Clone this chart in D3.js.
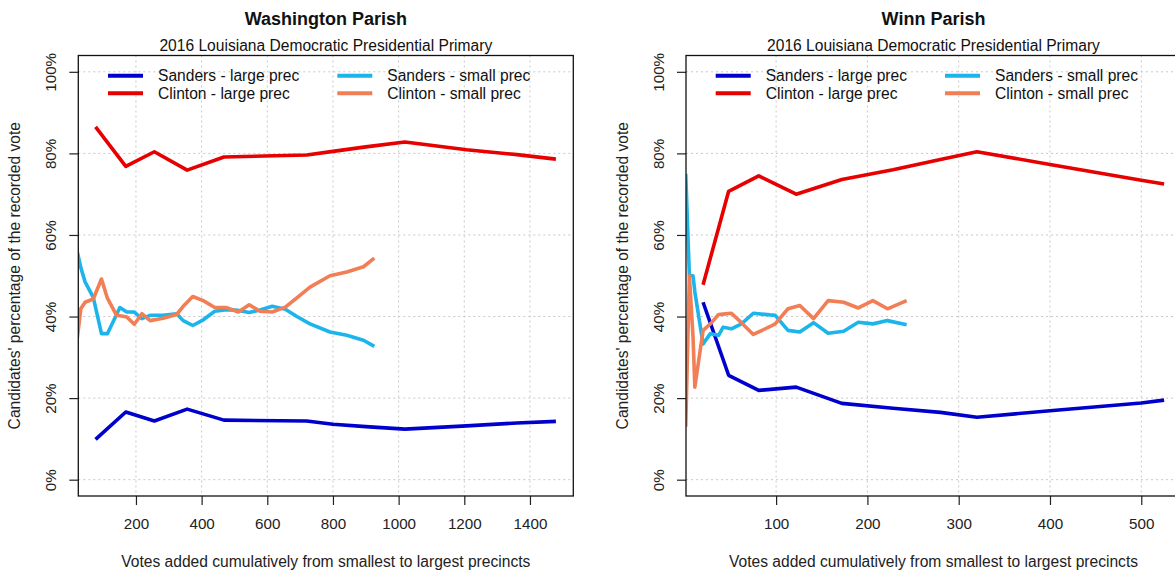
<!DOCTYPE html>
<html>
<head>
<meta charset="utf-8">
<script src="https://cdn.jsdelivr.net/npm/d3@7"></script>
<style>
  body { margin: 0; background: #fff; }
  svg { display: block; font-family: "Liberation Sans", Arial, sans-serif; }
</style>
</head>
<body>
<svg id="chart" width="1175" height="572"></svg>
<script>
// ---------------- DATA ----------------
const mainTitles = ["Washington Parish", "Winn Parish"];
const subTitle = "2016 Louisiana Democratic Presidential Primary";
const xAxisTitle = "Votes added cumulatively from smallest to largest precincts";
const yAxisTitle = "Candidates' percentage of the recorded vote";
const seriesNames = ["Sanders - large prec", "Clinton - large prec", "Sanders - small prec", "Clinton - small prec"];
const seriesColors = ["#0000CD", "#E60000", "#1BB5EC", "#F27E55"];

const yTicks = [0, 20, 40, 60, 80, 100];
const waXTicks = [200, 400, 600, 800, 1000, 1200, 1400];
const wiXTicks = [100, 200, 300, 400, 500];

// Washington Parish
const waLargeVotes   = [77, 169, 256, 356, 468, 720, 800, 900, 1019, 1207, 1360, 1479];
const waSandersLarge = [9.9, 16.6, 14.4, 17.3, 14.6, 14.4, 13.6, 13.0, 12.4, 13.2, 13.9, 14.3];
const waClintonLarge = [86.5, 76.8, 80.4, 75.9, 79.1, 79.6, 80.5, 81.6, 82.8, 80.9, 79.7, 78.6];
const waSmallVotes   = [10, 32, 45, 70, 95, 113, 141, 151, 172, 195, 218, 243, 283, 324, 344, 373, 405, 440, 476, 512, 545, 578, 615, 655, 690, 730, 791, 842, 893, 926];
const waSandersSmall = [60, 52, 48.5, 44.7, 35.8, 35.8, 40.5, 42.2, 41.1, 41.1, 39.5, 40.3, 40.3, 40.7, 39.0, 37.8, 39.2, 41.3, 41.7, 41.5, 41.0, 41.6, 42.5, 41.8, 40.0, 38.2, 36.2, 35.4, 34.2, 32.7];
const waClintonSmall = [27, 41.9, 43.5, 44.3, 49.2, 44.5, 40.3, 40.2, 39.9, 38.1, 40.7, 39.0, 39.6, 40.5, 42.5, 44.9, 43.9, 42.2, 42.2, 41.1, 42.9, 41.3, 41.1, 42.3, 44.6, 47.2, 50.0, 50.9, 52.2, 54.3];

// Winn Parish
const wiLargeVotes   = [20, 48, 81, 122, 172, 228, 280, 320, 400, 500, 525];
const wiSandersLarge = [43.5, 25.6, 21.9, 22.7, 18.7, 17.5, 16.5, 15.3, 16.9, 18.8, 19.5];
const wiClintonLarge = [47.8, 70.7, 74.5, 70.0, 73.6, 76.0, 78.5, 80.4, 77.3, 73.4, 72.5];
const wiSmallVotes   = [1, 5, 9, 11, 20, 28, 37, 42, 51, 62, 75, 93, 99, 113, 126, 141, 157, 174, 190, 206, 222, 243];
const wiSandersSmall = [75, 50, 50, 46, 33.3, 35.8, 35.4, 37.4, 37.0, 38.2, 40.8, 40.4, 40.3, 36.6, 36.2, 38.5, 35.9, 36.4, 38.6, 38.2, 39.0, 38.0];
const wiClintonSmall = [13, 50, 35, 22.7, 36.6, 38.2, 40.5, 40.6, 40.8, 38.5, 35.6, 37.5, 38.2, 41.9, 42.7, 39.5, 43.9, 43.5, 42.1, 43.9, 41.9, 43.9];

// ---------------- LAYOUT ----------------
const svg = d3.select("#chart");
const boxTop = 55.5, boxBottom = 496;

const panels = [
  { title: mainTitles[0], x0: 78.3, x1: 573.3, xDomain: [24.4, 1532], xTicks: waXTicks,
    series: [
      { x: waLargeVotes, y: waSandersLarge, c: 0 },
      { x: waLargeVotes, y: waClintonLarge, c: 1 },
      { x: waSmallVotes, y: waSandersSmall, c: 2 },
      { x: waSmallVotes, y: waClintonSmall, c: 3 }
    ]},
  { title: mainTitles[1], x0: 686, x1: 1181, xDomain: [1.3, 543.5], xTicks: wiXTicks,
    series: [
      { x: wiLargeVotes, y: wiSandersLarge, c: 0 },
      { x: wiLargeVotes, y: wiClintonLarge, c: 1 },
      { x: wiSmallVotes, y: wiSandersSmall, c: 2 },
      { x: wiSmallVotes, y: wiClintonSmall, c: 3 }
    ]}
];

const y = d3.scaleLinear().domain([-4, 104]).range([boxBottom, boxTop]);
const fontSize = 15.6;
const tickFont = 15.2;

panels.forEach((p, pi) => {
  const x = d3.scaleLinear().domain(p.xDomain).range([p.x0, p.x1]);
  const g = svg.append("g");
  const cx = (p.x0 + p.x1) / 2;
  const clipId = "clip" + pi;
  svg.append("clipPath").attr("id", clipId)
    .append("rect").attr("x", p.x0).attr("y", boxTop)
    .attr("width", p.x1 - p.x0).attr("height", boxBottom - boxTop);

  // grid
  const grid = g.append("g").attr("clip-path", `url(#${clipId})`)
    .attr("stroke", "#c8c8c8").attr("stroke-width", 1).attr("stroke-dasharray", "2,3");
  grid.selectAll("line.v").data(p.xTicks).join("line").attr("class", "v")
    .attr("x1", d => x(d)).attr("x2", d => x(d)).attr("y1", boxTop).attr("y2", boxBottom);
  grid.selectAll("line.h").data(yTicks).join("line").attr("class", "h")
    .attr("x1", p.x0).attr("x2", p.x1).attr("y1", d => y(d)).attr("y2", d => y(d));

  // axes via d3 axes
  const xAxis = d3.axisBottom(x).tickValues(p.xTicks).tickSize(9).tickPadding(13).tickFormat(d3.format("d"));
  const xg = g.append("g").attr("transform", `translate(0,${boxBottom})`).call(xAxis);
  xg.select(".domain").remove();
  xg.selectAll("line").attr("stroke", "#222").attr("stroke-width", 1.2);
  xg.selectAll("text").attr("font-size", tickFont).attr("fill", "#222")
    .attr("font-family", "Liberation Sans, Arial, sans-serif");

  const yAxis = d3.axisLeft(y).tickValues(yTicks).tickSize(9).tickFormat(d => d + "%");
  const yg = g.append("g").attr("transform", `translate(${p.x0},0)`).call(yAxis);
  yg.select(".domain").remove();
  yg.selectAll("line").attr("stroke", "#222").attr("stroke-width", 1.2);
  yg.selectAll("text")
    .attr("font-size", tickFont).attr("fill", "#222")
    .attr("font-family", "Liberation Sans, Arial, sans-serif")
    .attr("x", null).attr("dy", null)
    .attr("text-anchor", "middle")
    .attr("transform", "translate(-22,0) rotate(-90)");

  // lines
  const lineGen = d3.line().x(d => x(d[0])).y(d => y(d[1]));
  const lg = g.append("g").attr("clip-path", `url(#${clipId})`);
  p.series.forEach(s => {
    const pts = s.x.map((v, i) => [v, s.y[i]]);
    lg.append("path").datum(pts).attr("d", lineGen)
      .attr("fill", "none").attr("stroke", seriesColors[s.c])
      .attr("stroke-width", 3.6).attr("stroke-linejoin", "round").attr("stroke-linecap", "butt");
  });

  // box
  g.append("rect").attr("x", p.x0).attr("y", boxTop)
    .attr("width", p.x1 - p.x0).attr("height", boxBottom - boxTop)
    .attr("fill", "none").attr("stroke", "#111").attr("stroke-width", 1.3);

  // legend
  const legCols = [p.x0 + 29.7, p.x0 + 259];
  const legRows = [75.7, 93.3];
  const legendOrder = [0, 1, 2, 3];
  legendOrder.forEach((si, k) => {
    const col = Math.floor(k / 2), row = k % 2;
    const lx = legCols[col], ly = legRows[row];
    g.append("line").attr("x1", lx).attr("x2", lx + 35).attr("y1", ly).attr("y2", ly)
      .attr("stroke", seriesColors[si]).attr("stroke-width", 4);
    g.append("text").attr("x", lx + 50).attr("y", ly + 5.5)
      .attr("font-size", fontSize).attr("fill", "#111").text(seriesNames[si]);
  });

  // titles
  g.append("text").attr("x", cx).attr("y", 25).attr("text-anchor", "middle")
    .attr("font-size", 18).attr("font-weight", "bold").attr("fill", "#111").text(p.title);
  g.append("text").attr("x", cx).attr("y", 51).attr("text-anchor", "middle")
    .attr("font-size", fontSize).attr("fill", "#111").text(subTitle);
  g.append("text").attr("x", cx).attr("y", 567).attr("text-anchor", "middle")
    .attr("font-size", fontSize).attr("fill", "#222").text(xAxisTitle);
  g.append("text").attr("transform", `translate(${p.x0 - 58},${(boxTop + boxBottom) / 2}) rotate(-90)`)
    .attr("text-anchor", "middle")
    .attr("font-size", fontSize).attr("fill", "#222").text(yAxisTitle);
});
</script>
</body>
</html>
